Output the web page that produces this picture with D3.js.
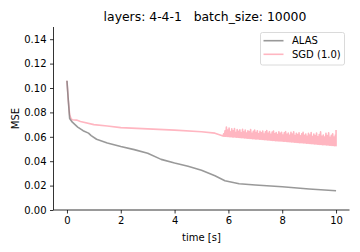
<!DOCTYPE html>
<html lang="en">
<head>
    <meta charset="UTF-8">
    <title>MSE over time</title>
    <script src="https://d3js.org/d3.v7.min.js"></script>
    <style>
        body { margin: 0; background: #fff; }
        text { font-family: "DejaVu Sans", sans-serif; fill: #000; }
    </style>
</head>
<body>
    <div id="chart-container"></div>
    <script>
        // Data
        const alasTime = [0, 0.05, 0.1, 0.2, 0.4, 0.6, 0.8, 0.9, 1.1, 1.5, 2, 2.5, 3, 3.5, 4, 4.5, 5, 5.5, 5.87, 6.4, 7, 8, 9, 10];
        const alasMSE  = [0.106, 0.09, 0.075, 0.072, 0.068, 0.065, 0.063, 0.061, 0.058, 0.055, 0.052, 0.0495, 0.0465, 0.0415, 0.0385, 0.0358, 0.0325, 0.028, 0.024, 0.0215, 0.0205, 0.019, 0.0172, 0.0158];

        // smooth start of the SGD curve
        const sgdTime = [0, 0.05, 0.1, 0.15, 0.2, 0.36, 0.5, 1, 1.5, 2, 3, 4, 5, 5.5];
        const sgdMSE  = [0.106, 0.09, 0.078, 0.075, 0.074, 0.0737, 0.0725, 0.070, 0.0688, 0.0675, 0.0665, 0.0655, 0.0642, 0.063];

        // noisy tail of the SGD curve: lower edge samples and spike samples, interleaved
        const sgdNoiseTime = [
            5.800, 5.825, 5.850, 5.875, 5.900, 5.925, 5.950, 5.975, 6.000, 6.025, 6.050, 6.075, 6.100, 6.125, 6.150, 6.175, 6.200, 6.225, 6.250, 6.275,
            6.300, 6.325, 6.350, 6.375, 6.400, 6.425, 6.450, 6.475, 6.500, 6.525, 6.550, 6.575, 6.600, 6.625, 6.650, 6.675, 6.700, 6.725, 6.750, 6.775,
            6.800, 6.825, 6.850, 6.875, 6.900, 6.925, 6.950, 6.975, 7.000, 7.025, 7.050, 7.075, 7.100, 7.125, 7.150, 7.175, 7.200, 7.225, 7.250, 7.275,
            7.300, 7.325, 7.350, 7.375, 7.400, 7.425, 7.450, 7.475, 7.500, 7.525, 7.550, 7.575, 7.600, 7.625, 7.650, 7.675, 7.700, 7.725, 7.750, 7.775,
            7.800, 7.825, 7.850, 7.875, 7.900, 7.925, 7.950, 7.975, 8.000, 8.025, 8.050, 8.075, 8.100, 8.125, 8.150, 8.175, 8.200, 8.225, 8.250, 8.275,
            8.300, 8.325, 8.350, 8.375, 8.400, 8.425, 8.450, 8.475, 8.500, 8.525, 8.550, 8.575, 8.600, 8.625, 8.650, 8.675, 8.700, 8.725, 8.750, 8.775,
            8.800, 8.825, 8.850, 8.875, 8.900, 8.925, 8.950, 8.975, 9.000, 9.025, 9.050, 9.075, 9.100, 9.125, 9.150, 9.175, 9.200, 9.225, 9.250, 9.275,
            9.300, 9.325, 9.350, 9.375, 9.400, 9.425, 9.450, 9.475, 9.500, 9.525, 9.550, 9.575, 9.600, 9.625, 9.650, 9.675, 9.700, 9.725, 9.750, 9.775,
            9.800, 9.825, 9.850, 9.875, 9.900, 9.925, 9.950, 9.975, 10.000, 10.000
        ];
        const sgdNoiseMSE = [
            0.0606, 0.0625, 0.0605, 0.0650, 0.0604, 0.0680, 0.0603, 0.0655, 0.0602, 0.0672, 0.0601, 0.0640, 0.0600, 0.0665, 0.0599, 0.0650, 0.0598, 0.0668, 0.0598, 0.0635,
            0.0597, 0.0660, 0.0596, 0.0645, 0.0595, 0.0658, 0.0594, 0.0632, 0.0593, 0.0662, 0.0592, 0.0640, 0.0591, 0.0655, 0.0590, 0.0630, 0.0589, 0.0650, 0.0588, 0.0642,
            0.0587, 0.0660, 0.0586, 0.0628, 0.0585, 0.0645, 0.0584, 0.0655, 0.0583, 0.0635, 0.0582, 0.0650, 0.0582, 0.0625, 0.0581, 0.0645, 0.0580, 0.0632, 0.0579, 0.0648,
            0.0578, 0.0622, 0.0577, 0.0640, 0.0576, 0.0652, 0.0575, 0.0628, 0.0574, 0.0642, 0.0573, 0.0620, 0.0572, 0.0638, 0.0571, 0.0648, 0.0570, 0.0625, 0.0569, 0.0635,
            0.0568, 0.0618, 0.0567, 0.0640, 0.0567, 0.0628, 0.0566, 0.0636, 0.0565, 0.0615, 0.0564, 0.0632, 0.0563, 0.0642, 0.0562, 0.0620, 0.0561, 0.0630, 0.0560, 0.0612,
            0.0559, 0.0636, 0.0558, 0.0622, 0.0557, 0.0640, 0.0556, 0.0610, 0.0555, 0.0628, 0.0554, 0.0618, 0.0553, 0.0632, 0.0552, 0.0608, 0.0551, 0.0625, 0.0551, 0.0636,
            0.0550, 0.0612, 0.0549, 0.0622, 0.0548, 0.0605, 0.0547, 0.0628, 0.0546, 0.0615, 0.0545, 0.0635, 0.0544, 0.0602, 0.0543, 0.0622, 0.0542, 0.0610, 0.0541, 0.0630,
            0.0540, 0.0600, 0.0539, 0.0618, 0.0538, 0.0640, 0.0537, 0.0605, 0.0536, 0.0615, 0.0535, 0.0598, 0.0535, 0.0628, 0.0534, 0.0610, 0.0533, 0.0632, 0.0532, 0.0595,
            0.0531, 0.0612, 0.0530, 0.0625, 0.0529, 0.0598, 0.0528, 0.0615, 0.0527, 0.0655
        ];

        const xTicks = [0, 2, 4, 6, 8, 10];
        const yTicks = [0, 0.02, 0.04, 0.06, 0.08, 0.10, 0.12, 0.14];
        const seriesNames = ["ALAS", "SGD (1.0)"];
        const seriesColors = ["#808080", "#ffb6c1"];
        const seriesOpacity = [0.8, 1];

        const width = 360, height = 252;
        const margin = { left: 53.5, right: 10.5, top: 27, bottom: 42 };

        const svg = d3.select("#chart-container")
            .append("svg")
            .attr("width", width)
            .attr("height", height);

        const x = d3.scaleLinear().domain([-0.5, 10.5]).range([margin.left, width - margin.right]);
        const y = d3.scaleLinear().domain([0, 0.15]).range([height - margin.bottom, margin.top]);

        // lines
        const line = d3.line().x(d => x(d[0])).y(d => y(d[1]));
        const series = [
            d3.zip(alasTime, alasMSE),
            d3.zip(sgdTime.concat(sgdNoiseTime), sgdMSE.concat(sgdNoiseMSE))
        ];
        // SGD first so the semi-transparent ALAS line sits on top
        [1, 0].forEach(i => {
            svg.append("path")
                .datum(series[i])
                .attr("fill", "none")
                .attr("stroke", seriesColors[i])
                .attr("stroke-opacity", seriesOpacity[i])
                .attr("stroke-width", 1.6)
                .attr("stroke-linejoin", "round")
                .attr("d", line);
        });

        // axes
        const xAxis = svg.append("g")
            .attr("transform", `translate(0,${height - margin.bottom})`)
            .call(d3.axisBottom(x).tickValues(xTicks).tickFormat(d3.format("d")).tickSize(3.5).tickPadding(3.5));
        const yAxis = svg.append("g")
            .attr("transform", `translate(${margin.left},0)`)
            .call(d3.axisLeft(y).tickValues(yTicks).tickFormat(d3.format(".2f")).tickSize(3.5).tickPadding(3.5));

        [xAxis, yAxis].forEach(a => {
            a.select(".domain").attr("stroke", "#000").attr("stroke-width", 0.8);
            a.selectAll(".tick line").attr("stroke", "#000").attr("stroke-width", 0.8);
            a.selectAll("text").style("font-size", "10px").attr("fill", "#000");
        });
        // plain spines, no outer ticks
        xAxis.select(".domain").attr("d", `M${margin.left},0H${width - margin.right}`);
        yAxis.select(".domain").attr("d", `M0,${margin.top}V${height - margin.bottom}`);

        // labels
        svg.append("text")
            .attr("x", (margin.left + width - margin.right) / 2)
            .attr("y", 241)
            .attr("text-anchor", "middle")
            .style("font-size", "10px")
            .text("time [s]");

        svg.append("text")
            .attr("transform", `translate(19,${(margin.top + height - margin.bottom) / 2}) rotate(-90)`)
            .attr("text-anchor", "middle")
            .style("font-size", "10px")
            .text("MSE");

        svg.append("text")
            .attr("x", 205)
            .attr("y", 21)
            .attr("text-anchor", "middle")
            .style("font-size", "12.4px")
            .text("layers: 4-4-1\u00a0\u00a0\u00a0batch_size: 10000");

        // legend
        const legend = svg.append("g").attr("transform", "translate(260.5,32.5)");
        legend.append("rect")
            .attr("width", 84)
            .attr("height", 32.5)
            .attr("rx", 2)
            .attr("fill", "#fff")
            .attr("fill-opacity", 0.8)
            .attr("stroke", "#d0d0d0")
            .attr("stroke-width", 0.8);
        seriesNames.forEach((name, i) => {
            const ly = 8.2 + i * 13.6;
            legend.append("line")
                .attr("x1", 3).attr("x2", 23)
                .attr("y1", ly).attr("y2", ly)
                .attr("stroke", seriesColors[i])
                .attr("stroke-opacity", seriesOpacity[i])
                .attr("stroke-width", 1.6);
            legend.append("text")
                .attr("x", 31.5)
                .attr("y", ly + 3.6)
                .style("font-size", "10px")
                .text(name);
        });
    </script>
</body>
</html>
